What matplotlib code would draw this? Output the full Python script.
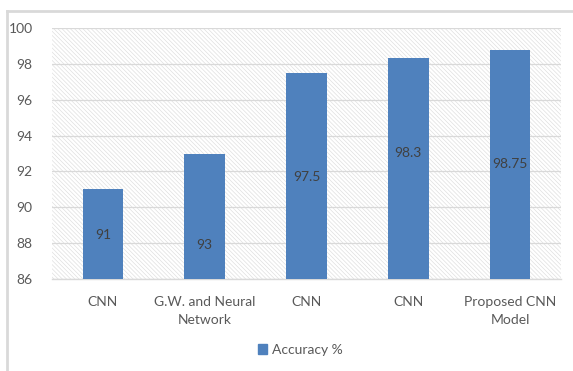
import matplotlib
matplotlib.use("Agg")
import matplotlib.pyplot as plt
from matplotlib.patches import Rectangle
from matplotlib.lines import Line2D

categories = ["CNN", "G.W. and Neural\nNetwork", "CNN", "CNN", "Proposed CNN\nModel"]
accuracy = [91, 93, 97.5, 98.3, 98.75]
value_labels = ["91", "93", "97.5", "98.3", "98.75"]
label_y = [88.45, 87.9, 91.7, 93.05, 92.4]
yticks = [86, 88, 90, 92, 94, 96, 98, 100]
series_name = "Accuracy %"

plt.rcParams['font.family'] = ['Lato', 'DejaVu Sans']
plt.rcParams['hatch.linewidth'] = 0.5

W, H = 573, 371
fig = plt.figure(figsize=(W / 100, H / 100), dpi=100)
fig.patch.set_facecolor('white')

# outer frame lines (top & left)
fig.add_artist(Line2D([7 / W, 1], [1 - 10.5 / H, 1 - 10.5 / H], color='#d9d9d9', lw=2, transform=fig.transFigure))
fig.add_artist(Line2D([7 / W, 7 / W], [0, 1 - 10.5 / H], color='#d9d9d9', lw=2, transform=fig.transFigure))

ax = fig.add_axes([52 / W, (H - 279) / H, 509 / W, 251 / H])
ax.set_facecolor('white')
bg = Rectangle((0, 0), 1, 1, transform=ax.transAxes, facecolor='white',
               edgecolor='#e0e0e0', hatch='\\\\\\\\\\\\\\\\', lw=0, zorder=0)
ax.add_patch(bg)

x = list(range(len(categories)))
ax.bar(x, [a - 86 for a in accuracy], bottom=86, width=0.4, color='#4F81BD', zorder=3)
for xi, lab, ly in zip(x, value_labels, label_y):
    ax.text(xi, ly, lab, ha='center', va='center', fontsize=10, color='#404040', zorder=4)

ax.set_ylim(86, 100)
ax.set_xlim(-0.5, len(categories) - 0.5)
ax.set_yticks(yticks)
ax.set_yticklabels([str(t) for t in yticks])
ax.set_xticks(x)
ax.set_xticklabels(categories, linespacing=1.6)
ax.tick_params(axis='both', length=0, labelsize=10, colors='#595959')
ax.tick_params(axis='y', pad=14)
ax.tick_params(axis='x', pad=12)
ax.yaxis.grid(True, color='#d9d9d9', lw=0.9, zorder=1)
for s in ['top', 'right', 'left']:
    ax.spines[s].set_visible(False)
ax.spines['bottom'].set_color('#d9d9d9')
ax.spines['bottom'].set_linewidth(1)

handle = Rectangle((0, 0), 1, 1, color='#4F81BD')
fig.legend([handle], [series_name], loc='center', bbox_to_anchor=(300 / W, 1 - 350 / H),
           frameon=False, fontsize=10, labelcolor='#595959', handlelength=0.7,
           handleheight=0.7, handletextpad=0.3)

fig.savefig("out.png", dpi=100)
